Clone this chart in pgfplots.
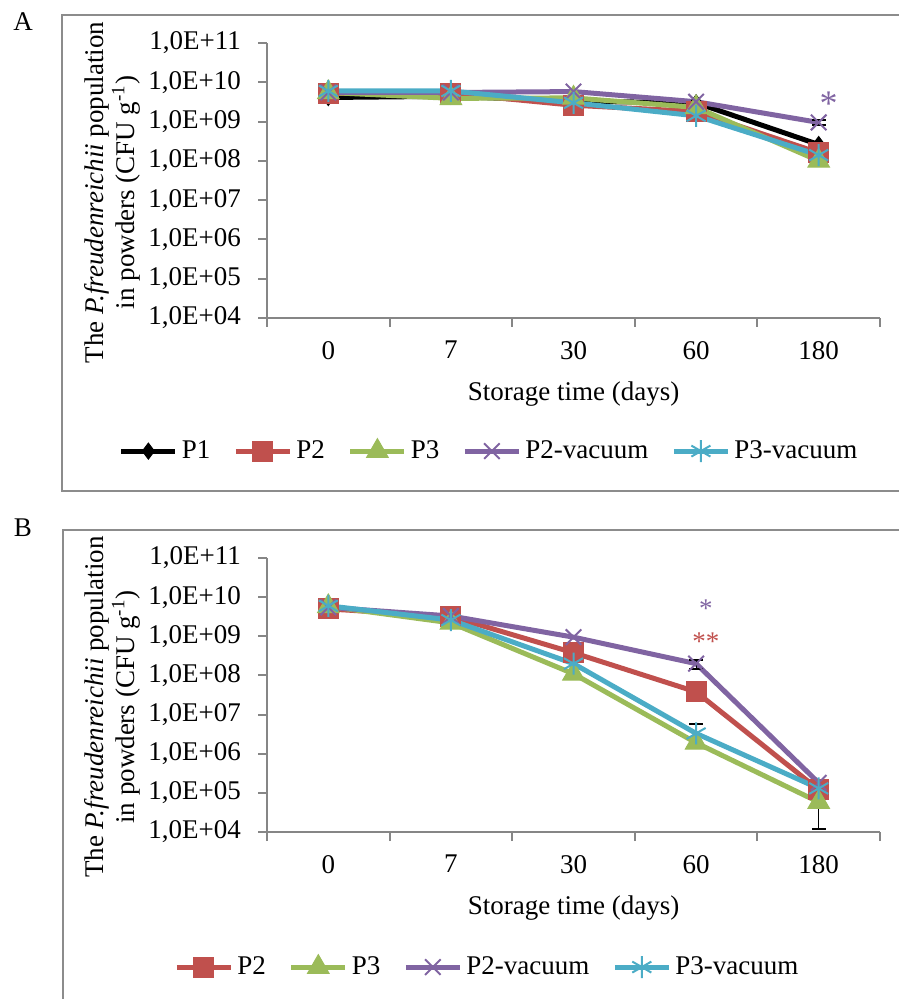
\documentclass[border=0pt]{standalone}
\usepackage{pgfplots}
\pgfplotsset{compat=1.18}
\usepackage{fontspec}
\setmainfont{Liberation Serif}
\definecolor{axgray}{RGB}{134,134,134}
\definecolor{frgray}{RGB}{140,140,140}
\definecolor{cP2}{RGB}{192,80,77}
\definecolor{cP3}{RGB}{155,187,89}
\definecolor{cV2}{RGB}{128,100,162}
\definecolor{cV3}{RGB}{75,172,198}
\newcommand{\fs}{\fontsize{13.5}{15.5}\selectfont}

\tikzset{
  sP1/.style={black, line width=2.5pt, mark=diamond*, mark size=4pt, mark options={solid, fill=black, line width=0.5pt}},
  sP2/.style={cP2, line width=2.5pt, mark=square*, mark size=5pt, mark options={solid, fill=cP2, line width=0.5pt}},
  sP3/.style={cP3, line width=2.5pt, mark=triangle*, mark size=6.2pt, mark options={solid, fill=cP3, line width=0.5pt}},
  sV2/.style={cV2, line width=2.5pt, mark=x, mark size=5.5pt, mark options={solid, line width=1pt}},
  sV3/.style={cV3, line width=2.5pt, mark=asterisk, mark size=5.5pt, mark options={solid, line width=1pt}},
}

\begin{document}
\begin{tikzpicture}
\useasboundingbox (0,0) rectangle (449pt,-499.5pt);
\draw[frgray, line width=1.2pt] (450pt,-7.5pt) -- (31pt,-7.5pt) -- (31pt,-245.5pt) -- (450pt,-245.5pt);
\draw[frgray, line width=1.2pt] (450pt,-265pt) -- (31.5pt,-265pt) -- (31.5pt,-501pt);
\node[font=\fs] at (11.5pt,-11pt) {A};
\node[font=\fs] at (11.5pt,-264pt) {B};

\begin{axis}[
    scale only axis, width=306.5pt, height=137.5pt,
    at={(133.5pt,-159pt)}, anchor=south west,
    ymode=log, ymin=1e4, ymax=1e11, xmin=-0.5, xmax=4.5,
    axis lines*=left,
    axis line style={draw=axgray, line width=1pt},
    tick style={draw=axgray, line width=1pt},
    tick align=outside, major tick length=4.5pt,
    ytick={1e4,1e5,1e6,1e7,1e8,1e9,1e10,1e11},
    yticklabels={{1,0E+04},{1,0E+05},{1,0E+06},{1,0E+07},{1,0E+08},{1,0E+09},{1,0E+10},{1,0E+11}},
    yminorticks=false,
    xtick={-0.5,0.5,1.5,2.5,3.5,4.5}, xticklabels={},
    extra x ticks={0,1,2,3,4}, extra x tick labels={0,7,30,60,180},
    extra x tick style={major tick length=0pt},
    tick label style={font=\fs},
    label style={font=\fs},
    xticklabel style={yshift=-8pt},
    yticklabel style={xshift=-5pt},
    xlabel={Storage time (days)},
    ylabel={The \textit{P.freudenreichii} population\\in powders (CFU g\textsuperscript{-1})},
    ylabel style={align=center, yshift=-3pt, xshift=-6pt},
    legend columns=-1,
    legend style={draw=none, fill=none, font=\fs, at={(0.364,-0.484)}, anchor=center,
      /tikz/every even column/.append style={column sep=9.5pt}},
    legend image code/.code={
      \draw[mark repeat=2, mark phase=2] plot coordinates {(0pt,0pt) (13.5pt,0pt) (27pt,0pt)};
    },
    clip=false]
\addplot[sP1] coordinates {(0,4.1e9) (1,4.4e9) (2,3.3e9) (3,3.0e9) (4,2.6e8)};
\addlegendentry{P1}
\addplot[forget plot, black, line width=1pt, mark=none, error bars/.cd, y dir=minus, y explicit,
  error mark options={rotate=90, black, mark size=3.5pt, line width=1pt}]
  coordinates {(2,3.0e9) -= (0,1.1e9)};
\addplot[sP2] coordinates {(0,5.2e9) (1,5.2e9) (2,2.6e9) (3,1.8e9) (4,1.6e8)};
\addlegendentry{P2}
\addplot[sP3] coordinates {(0,5.5e9) (1,3.9e9) (2,4.0e9) (3,2.3e9) (4,1.0e8)};
\addlegendentry{P3}
\addplot[sV2] coordinates {(0,5.5e9) (1,5.5e9) (2,5.8e9) (3,3.2e9) (4,9.5e8)};
\addlegendentry{P2-vacuum}
\addplot[forget plot, black, line width=1pt, mark=none, error bars/.cd, y dir=both, y explicit,
  error mark options={rotate=90, black, mark size=3.5pt, line width=1pt}]
  coordinates {(4,9.5e8) +- (0,1.5e8)};
\addplot[sV3] coordinates {(0,6.0e9) (1,6.0e9) (2,3.0e9) (3,1.4e9) (4,1.4e8)};
\addlegendentry{P3-vacuum}
\node[text=cV2, font=\fontsize{18}{18}\selectfont, inner sep=0pt, yshift=-2pt] at (axis cs:4.08,3.7e9) {*};
\end{axis}

\begin{axis}[
    scale only axis, width=306.5pt, height=137pt,
    at={(133.5pt,-416pt)}, anchor=south west,
    ymode=log, ymin=1e4, ymax=1e11, xmin=-0.5, xmax=4.5,
    axis lines*=left,
    axis line style={draw=axgray, line width=1pt},
    tick style={draw=axgray, line width=1pt},
    tick align=outside, major tick length=4.5pt,
    ytick={1e4,1e5,1e6,1e7,1e8,1e9,1e10,1e11},
    yticklabels={{1,0E+04},{1,0E+05},{1,0E+06},{1,0E+07},{1,0E+08},{1,0E+09},{1,0E+10},{1,0E+11}},
    yminorticks=false,
    xtick={-0.5,0.5,1.5,2.5,3.5,4.5}, xticklabels={},
    extra x ticks={0,1,2,3,4}, extra x tick labels={0,7,30,60,180},
    extra x tick style={major tick length=0pt},
    tick label style={font=\fs},
    label style={font=\fs},
    xticklabel style={yshift=-8pt},
    yticklabel style={xshift=-5pt},
    xlabel={Storage time (days)},
    ylabel={The \textit{P.freudenreichii} population\\in powders (CFU g\textsuperscript{-1})},
    ylabel style={align=center, yshift=-3pt, xshift=-6pt},
    legend columns=-1,
    legend style={draw=none, fill=none, font=\fs, at={(0.361,-0.493)}, anchor=center,
      /tikz/every even column/.append style={column sep=9.5pt}},
    legend image code/.code={
      \draw[mark repeat=2, mark phase=2] plot coordinates {(0pt,0pt) (13.5pt,0pt) (27pt,0pt)};
    },
    clip=false]
\addplot[sP2] coordinates {(0,5.0e9) (1,3.2e9) (2,3.8e8) (3,3.8e7) (4,1.2e5)};
\addlegendentry{P2}
\addplot[sP3] coordinates {(0,5.8e9) (1,2.2e9) (2,1.1e8) (3,1.9e6) (4,5.8e4)};
\addlegendentry{P3}
\addplot[forget plot, black, line width=1pt, mark=none, error bars/.cd, y dir=minus, y explicit,
  error mark options={rotate=90, black, mark size=3.5pt, line width=1pt}]
  coordinates {(4,5.8e4) -= (0,4.6e4)};
\addplot[sV2] coordinates {(0,5.5e9) (1,3.3e9) (2,9.5e8) (3,2.0e8) (4,1.8e5)};
\addlegendentry{P2-vacuum}
\addplot[forget plot, black, line width=1pt, mark=none, error bars/.cd, y dir=both, y explicit,
  error mark options={rotate=90, black, mark size=3.5pt, line width=1pt}]
  coordinates {(3,2.0e8) +- (0,0.5e8)};
\addplot[sV3] coordinates {(0,6.0e9) (1,2.6e9) (2,2.0e8) (3,3.3e6) (4,1.3e5)};
\addlegendentry{P3-vacuum}
\addplot[forget plot, black, line width=1pt, mark=none, error bars/.cd, y dir=plus, y explicit,
  error mark options={rotate=90, black, mark size=3.5pt, line width=1pt}]
  coordinates {(3,3.3e6) += (0,2.3e6)};
\node[text=cV2, font=\fs, inner sep=0pt, yshift=-2pt] at (axis cs:3.08,6.6e9) {*};
\node[text=cP2, font=\fs, inner sep=0pt, yshift=-2pt] at (axis cs:3.08,9.5e8) {**};
\end{axis}
\end{tikzpicture}
\end{document}
